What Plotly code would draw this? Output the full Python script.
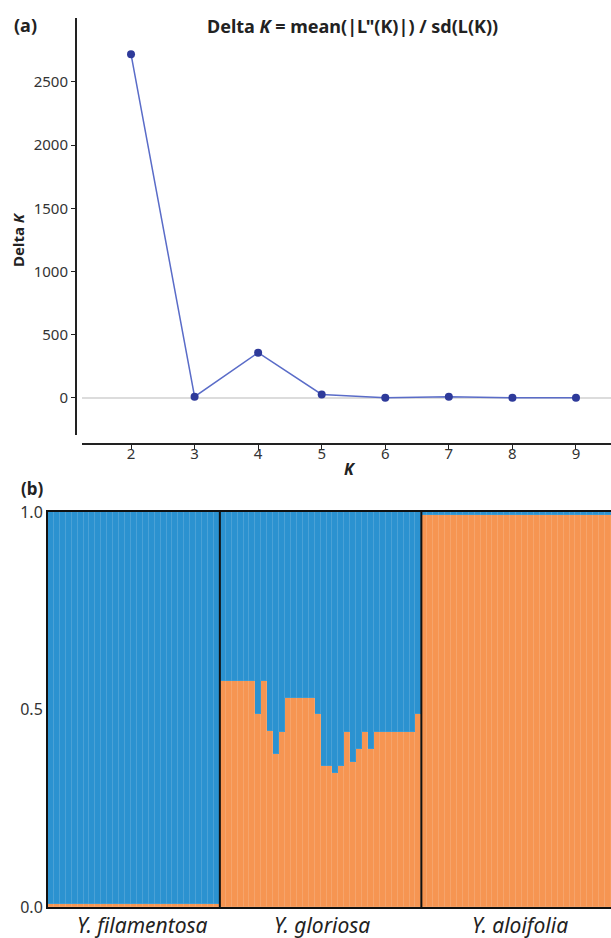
import plotly.graph_objects as go

# Panel (a): Delta K
k_values = [2, 3, 4, 5, 6, 7, 8, 9]
delta_k = [2720, 10, 358, 28, 2, 10, 2, 1]

# Panel (b): STRUCTURE K=2 membership (orange cluster proportion)
groups = ["Y. filamentosa", "Y. gloriosa", "Y. aloifolia"]
filamentosa_orange = [0.008, 0.008, 0.008, 0.008, 0.008, 0.008, 0.008, 0.008, 0.008, 0.008,
                      0.008, 0.008, 0.008, 0.008, 0.008, 0.008, 0.008, 0.008, 0.008, 0.008,
                      0.008, 0.008, 0.008, 0.008, 0.008, 0.008, 0.008, 0.008, 0.008]
gloriosa_orange = [0.573, 0.573, 0.573, 0.573, 0.573, 0.573, 0.488, 0.573, 0.446, 0.387,
                   0.444, 0.530, 0.530, 0.530, 0.530, 0.530, 0.488, 0.358, 0.358, 0.338,
                   0.358, 0.444, 0.366, 0.400, 0.444, 0.400, 0.444, 0.444, 0.444, 0.444,
                   0.444, 0.444, 0.444, 0.488]
aloifolia_orange = [0.992, 0.992, 0.992, 0.992, 0.992, 0.992, 0.992, 0.992, 0.992, 0.992,
                    0.992, 0.992, 0.992, 0.992, 0.992, 0.992, 0.992, 0.992, 0.992, 0.992,
                    0.992, 0.992, 0.992, 0.992, 0.992, 0.992, 0.992, 0.992, 0.992, 0.992,
                    0.992, 0.992]

W, H = 611, 938
FONT = "Noto Sans"
BLUE = "#2b92d0"
ORANGE = "#f69552"

def px(x):
    return x / W

def py(y):
    return 1 - y / H

orange = filamentosa_orange + gloriosa_orange + aloifolia_orange
blue = [round(1 - v, 3) for v in orange]
idx = list(range(len(orange)))
n1 = len(filamentosa_orange)
n2 = len(gloriosa_orange)
n3 = len(aloifolia_orange)

fig = go.Figure()

fig.add_trace(go.Scatter(
    x=k_values, y=delta_k, mode="lines+markers",
    line=dict(color="#5a6cc8", width=1.5),
    marker=dict(color="#2e3a9a", size=8),
    xaxis="x", yaxis="y", showlegend=False,
))

bar_line = dict(color="rgba(255,255,255,0.08)", width=1)
fig.add_trace(go.Bar(
    x=idx, y=orange, marker=dict(color=ORANGE, line=bar_line),
    xaxis="x2", yaxis="y2", showlegend=False,
))
fig.add_trace(go.Bar(
    x=idx, y=blue, marker=dict(color=BLUE, line=bar_line),
    xaxis="x2", yaxis="y2", showlegend=False,
))

axis_font = dict(family=FONT, size=15, color="#333333")

fig.update_layout(
    width=W, height=H, autosize=False,
    margin=dict(l=0, r=0, t=0, b=0, pad=0, autoexpand=False),
    paper_bgcolor="white", plot_bgcolor="white",
    barmode="stack", bargap=0,
    font=dict(family=FONT, color="#222222"),
    xaxis=dict(
        domain=[px(82), 1], anchor="free", position=py(444), automargin=False,
        range=[1.229, 9.551], tickvals=k_values,
        showline=True, linecolor="#222222", linewidth=2,
        ticks="outside", ticklen=5, tickcolor="#222222", tickwidth=1,
        ticklabelstandoff=-9,
        showgrid=False, zeroline=False, tickfont=axis_font,
    ),
    yaxis=dict(
        domain=[py(435), py(18)], anchor="free", position=px(76), automargin=False,
        range=[-293, 3006], tickvals=[0, 500, 1000, 1500, 2000, 2500],
        showline=True, linecolor="#222222", linewidth=2,
        ticks="outside", ticklen=4, tickcolor="#222222", tickwidth=1,
        showgrid=False, zeroline=True, zerolinecolor="#dcdcdc", zerolinewidth=2,
        tickfont=axis_font,
    ),
    xaxis2=dict(
        domain=[px(48), 1], anchor="y2", automargin=False,
        range=[-0.5, len(orange) - 0.5],
        showticklabels=False, ticks="", showgrid=False, zeroline=False,
        showline=True, linecolor="#111111", linewidth=2, mirror=True,
    ),
    yaxis2=dict(
        domain=[py(907), py(512)], anchor="x2", automargin=False,
        range=[0, 1], tickvals=[0, 0.5, 1.0], tickformat=".1f",
        showline=True, linecolor="#111111", linewidth=2,
        ticks="", showgrid=False, zeroline=False,
        tickfont=dict(family=FONT, size=16, color="#333333"),
    ),
)

# group separators
for b in [n1 - 0.5, n1 + n2 - 0.5]:
    fig.add_shape(type="line", xref="x2", yref="y2 domain", x0=b, x1=b, y0=0, y1=1,
                  line=dict(color="#111111", width=2))

annotations = [
    dict(text="<b>(a)</b>", x=px(12), y=py(25), xanchor="left", yanchor="middle", font=dict(size=18)),
    dict(text="<b>(b)</b>", x=px(19), y=py(488), xanchor="left", yanchor="middle", font=dict(size=17)),
    dict(text="<b>Delta <i>K</i> = mean(|L\"(K)|) / sd(L(K))</b>", x=px(352), y=py(26),
         xanchor="center", yanchor="middle", font=dict(size=18)),
    dict(text="<b>Delta <i>K</i></b>", x=px(18), y=py(240), xanchor="center", yanchor="middle",
         textangle=-90, font=dict(size=15)),
    dict(text="<b><i>K</i></b>", x=px(350), y=py(469), xanchor="center", yanchor="middle",
         font=dict(size=16)),
]
label_x = [142, 322, 520]
for g, lx in zip(groups, label_x):
    annotations.append(dict(text="<i>" + g + "</i>", x=px(lx), y=py(925), xanchor="center",
                            yanchor="middle", font=dict(size=21, color="#222222")))
for a in annotations:
    a.setdefault("xref", "paper")
    a.setdefault("yref", "paper")
    a["showarrow"] = False
fig.update_layout(annotations=annotations)

fig.write_html(
    "out.html",
    config={"displayModeBar": False},
    post_script="document.body.style.margin='0';document.body.style.overflow='hidden';",
)
